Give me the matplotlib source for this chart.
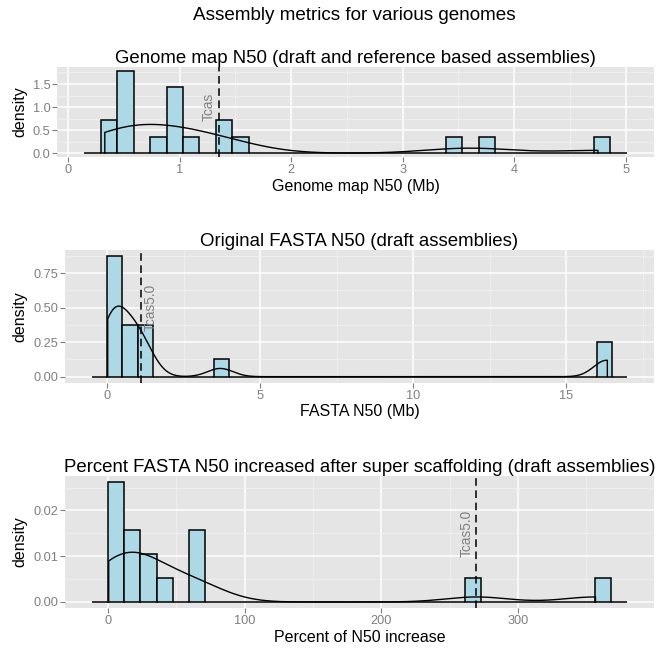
import numpy as np
import matplotlib.pyplot as plt
from matplotlib.ticker import MultipleLocator, FormatStrFormatter

plt.rcParams['font.family'] = ['Liberation Sans', 'DejaVu Sans']

# genome map N50 in Mb (draft and reference based assemblies)
genome_map_n50 = [0.33, 0.40, 0.46, 0.50, 0.53, 0.55, 0.57, 0.80, 0.92, 0.96,
                  1.00, 1.02, 1.10, 1.35, 1.42, 1.55, 3.45, 3.75, 4.75]
tcas_genome_map = 1.35

# original FASTA N50 in Mb (draft assemblies)
fasta_n50 = [0.02, 0.05, 0.10, 0.18, 0.22, 0.30, 0.42, 0.60, 0.75, 0.90,
             1.05, 1.12, 1.35, 3.70, 16.30, 16.35]
tcas_fasta = 1.12

# percent N50 increase after super scaffolding (draft assemblies)
pct_increase = [0.5, 3, 6, 8, 10, 14, 18, 22, 27, 33, 42, 61, 65, 69,
                269.5, 356.6]
tcas_pct = 269.5

GREY = '#7F7F7F'
ADJUST = 1.12  # bandwidth adjust, like stat_density(adjust=...)


def nrd0(x):
    sd = np.std(x, ddof=1)
    q75, q25 = np.percentile(x, [75, 25])
    return 0.9 * min(sd, (q75 - q25) / 1.34) * len(x) ** -0.2


def gg_panel(ax, x, binwidth=None):
    x = np.asarray(x, dtype=float)
    if binwidth is None:
        binwidth = (x.max() - x.min()) / 30
    # ggplot style breaks: multiples of binwidth, padded by one bin each side
    lo = np.floor(x.min() / binwidth) - 1
    hi = np.ceil(x.max() / binwidth) + 1
    edges = np.arange(lo, hi + 0.5) * binwidth
    counts, _ = np.histogram(x, edges)
    heights = counts / (len(x) * binwidth)
    ax.bar(edges[:-1], heights, width=binwidth, align='edge', color='#ADD8E6',
           edgecolor='black', linewidth=1.1, zorder=2)

    # kernel density, gaussian, R default bandwidth
    bw = nrd0(x) * ADJUST
    grid = np.linspace(x.min(), x.max(), 512)
    dens = np.exp(-0.5 * ((grid[:, None] - x[None, :]) / bw) ** 2).sum(1)
    dens = dens / (len(x) * bw * np.sqrt(2 * np.pi))
    ax.plot(np.r_[grid[0], grid, grid[-1]], np.r_[0, dens, 0],
            color='black', lw=1.0, zorder=3)

    span = edges[-1] - edges[0]
    ax.set_xlim(edges[0] - 0.05 * span, edges[-1] + 0.05 * span)
    top = max(heights.max(), dens.max())
    ax.set_ylim(-0.05 * top, 1.05 * top)


def gg_style(ax, xmaj, ymaj, yfmt):
    ax.set_facecolor('#E5E5E5')
    for s in ax.spines.values():
        s.set_visible(False)
    ax.xaxis.set_major_locator(MultipleLocator(xmaj))
    ax.xaxis.set_minor_locator(MultipleLocator(xmaj, offset=xmaj / 2))
    ax.yaxis.set_major_locator(MultipleLocator(ymaj))
    ax.yaxis.set_minor_locator(MultipleLocator(ymaj, offset=ymaj / 2))
    ax.yaxis.set_major_formatter(FormatStrFormatter(yfmt))
    ax.xaxis.set_major_formatter(FormatStrFormatter('%d'))
    ax.grid(which='major', color='white', lw=1.1)
    ax.grid(which='minor', color='#F2F2F2', lw=0.5)
    ax.set_axisbelow(True)
    ax.tick_params(which='major', length=3.5, width=0.8, color=GREY,
                   labelcolor=GREY, labelsize=9.2, pad=1.5)
    ax.tick_params(which='minor', length=0)


fig = plt.figure(figsize=(6.56, 6.51), dpi=100)
W, H = 656.0, 651.0


def rect(l, t, r, b):
    return [l / W, 1 - b / H, (r - l) / W, (b - t) / H]


ax1 = fig.add_axes(rect(57.3, 66.7, 654, 157.3))
ax2 = fig.add_axes(rect(65, 250, 654, 382.7))
ax3 = fig.add_axes(rect(65, 475.5, 654, 608))

gg_panel(ax1, genome_map_n50)
gg_style(ax1, 1, 0.5, '%.1f')
gg_panel(ax2, fasta_n50, binwidth=0.5)
gg_style(ax2, 5, 0.25, '%.2f')
gg_panel(ax3, pct_increase)
gg_style(ax3, 100, 0.01, '%.2f')

dash = (0, (5, 3))
ax1.axvline(tcas_genome_map, color='black', ls=dash, lw=1.1, zorder=4)
ax2.axvline(tcas_fasta, color='black', ls=dash, lw=1.1, zorder=4)
ax3.axvline(tcas_pct, color='black', ls=dash, lw=1.1, zorder=4)

ax1.annotate('Tcas', (tcas_genome_map, 1.0), xytext=(-2, 0),
             textcoords='offset points', rotation=90, ha='right', va='center',
             color=GREY, fontsize=9.8, zorder=5)
ax2.annotate('Tcas5.0', (tcas_fasta, 0.5), xytext=(2, 0),
             textcoords='offset points', rotation=90, ha='left', va='center',
             color=GREY, fontsize=9.8, zorder=5)
ax3.annotate('Tcas5.0', (tcas_pct, 0.015), xytext=(-2, 0),
             textcoords='offset points', rotation=90, ha='right', va='center',
             color=GREY, fontsize=9.8, zorder=5)

ax1.set_title('Genome map N50 (draft and reference based assemblies)',
              fontsize=13.4, pad=2)
ax2.set_title('Original FASTA N50 (draft assemblies)', fontsize=13.4, pad=2)
ax3.set_title('Percent FASTA N50 increased after super scaffolding '
              '(draft assemblies)', fontsize=13.4, pad=2)

ax1.set_xlabel('Genome map N50 (Mb)', fontsize=11.5, labelpad=2)
ax2.set_xlabel('FASTA N50 (Mb)', fontsize=11.5, labelpad=2)
ax3.set_xlabel('Percent of N50 increase', fontsize=11.5, labelpad=2)

for ax in (ax1, ax2, ax3):
    pos = ax.get_position()
    fig.text(20 / W, pos.y0 + pos.height / 2, 'density', rotation=90,
             ha='center', va='center', fontsize=11.5)

fig.text(354 / W, 1 - 15 / H, 'Assembly metrics for various genomes',
         ha='center', va='center', fontsize=13.6)

fig.savefig('out.png', dpi=100)
